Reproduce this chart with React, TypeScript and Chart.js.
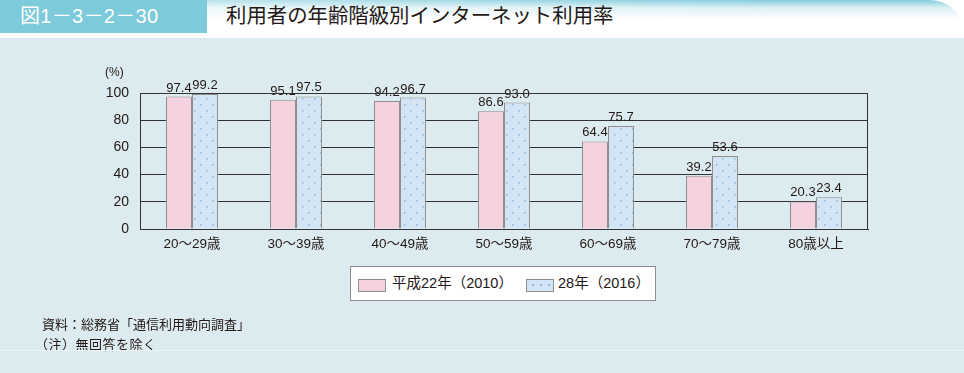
import React, { useEffect, useRef } from 'react';
import { Chart, registerables } from 'chart.js';
Chart.register(...registerables);

const categories = ['20～29歳', '30～39歳', '40～49歳', '50～59歳', '60～69歳', '70～79歳', '80歳以上'];
const series2010 = [97.4, 95.1, 94.2, 86.6, 64.4, 39.2, 20.3];
const series2016 = [99.2, 97.5, 96.7, 93.0, 75.7, 53.6, 23.4];
const seriesLabels = ['平成22年（2010）', '28年（2016）'];
const yMin = 0;
const yMax = 100;
const yStep = 20;

const FONT = "'Liberation Sans', 'Noto Sans CJK JP', sans-serif";
const TEXT = '#231815';
const PINK = '#f5d2df';
const BLUE = '#d3e4f5';
const DOT = '#8db5df';
const EDGE = '#8e8e8e';
const BG = '#dcebef';

function makePattern(): CanvasPattern | string {
  const c = document.createElement('canvas');
  c.width = 12;
  c.height = 12;
  const g = c.getContext('2d');
  if (!g) return BLUE;
  g.fillStyle = BLUE;
  g.fillRect(0, 0, 12, 12);
  g.fillStyle = DOT;
  g.fillRect(2, 2, 1.5, 1.5);
  g.fillRect(8, 8, 1.5, 1.5);
  const p = g.createPattern(c, 'repeat');
  return p || BLUE;
}

export default function App() {
  const ref = useRef<HTMLCanvasElement | null>(null);

  useEffect(() => {
    if (!ref.current) return;
    const labelPlugin = {
      id: 'valueLabels',
      afterDatasetsDraw(chart: any) {
        const ctx = chart.ctx;
        ctx.save();
        ctx.font = `13px ${FONT}`;
        ctx.fillStyle = TEXT;
        ctx.textAlign = 'center';
        ctx.textBaseline = 'bottom';
        chart.data.datasets.forEach((ds: any, i: number) => {
          const meta = chart.getDatasetMeta(i);
          meta.data.forEach((el: any, j: number) => {
            ctx.fillText(Number(ds.data[j]).toFixed(1), el.x, el.y - 2);
          });
        });
        const a = chart.chartArea;
        ctx.strokeStyle = '#333333';
        ctx.lineWidth = 1;
        ctx.strokeRect(Math.round(a.left) + 0.5, Math.round(a.top) + 0.5, Math.round(a.right - a.left) - 1, Math.round(a.bottom - a.top));
        ctx.restore();
      },
    };
    const chart = new Chart(ref.current, {
      type: 'bar',
      data: {
        labels: categories,
        datasets: [
          {
            label: seriesLabels[0],
            data: series2010,
            backgroundColor: PINK,
            borderColor: EDGE,
            borderWidth: { left: 1, right: 1, top: 1, bottom: 0 } as any,
            borderSkipped: 'bottom',
          },
          {
            label: seriesLabels[1],
            data: series2016,
            backgroundColor: makePattern() as any,
            borderColor: EDGE,
            borderWidth: { left: 1, right: 1, top: 1, bottom: 0 } as any,
            borderSkipped: 'bottom',
          },
        ],
      },
      options: {
        animation: false,
        responsive: false,
        maintainAspectRatio: false,
        devicePixelRatio: 1,
        layout: { padding: { top: 93, right: 96, left: 0, bottom: 0 } },
        datasets: { bar: { categoryPercentage: 0.5, barPercentage: 1 } },
        plugins: { legend: { display: false }, tooltip: { enabled: false } },
        scales: {
          x: {
            grid: { display: false, drawTicks: false },
            border: { color: '#333333', width: 1 },
            ticks: { color: TEXT, font: { family: FONT, size: 13.5 }, padding: 7, maxRotation: 0 },
            afterFit: (s: any) => { s.height = 144; },
          },
          y: {
            min: yMin,
            max: yMax,
            grid: { color: '#333333', lineWidth: 1, drawTicks: false },
            border: { color: '#333333', width: 1 },
            ticks: { stepSize: yStep, color: TEXT, font: { family: FONT, size: 14 }, padding: 11 },
            afterFit: (s: any) => { s.width = 140; },
          },
        },
      },
      plugins: [labelPlugin],
    });
    return () => chart.destroy();
  }, []);

  const swatch = (kind: number) => ({
    position: 'absolute' as const,
    top: 12,
    left: 7,
    width: 26,
    height: 11,
    border: `1px solid ${EDGE}`,
    backgroundColor: kind === 0 ? PINK : BLUE,
    backgroundImage: kind === 0 ? 'none' : `radial-gradient(${DOT} 0.8px, transparent 1.2px)`,
    backgroundSize: '8px 8px',
    backgroundPosition: '2px 1px',
  });

  return (
    <div style={{ position: 'fixed', left: 0, top: 0, width: 964, height: 373, background: BG, overflow: 'hidden', fontFamily: FONT, color: TEXT }}>
      <div style={{ position: 'absolute', left: 0, top: 0, width: 964, height: 38, background: '#ffffff' }} />
      <div style={{ position: 'absolute', left: 0, top: 0, width: 964, height: 34, borderTopRightRadius: 46, background: 'linear-gradient(to bottom, rgba(125,202,219,0.95) 0px, rgba(200,232,239,0.6) 8px, rgba(255,255,255,0) 20px)' }} />
      <div style={{ position: 'absolute', left: 0, top: 0, width: 964, height: 38, background: 'linear-gradient(to right, rgba(255,255,255,0.6), rgba(255,255,255,0) 80%)' }} />
      <div style={{ position: 'absolute', left: 0, top: 0, width: 207, height: 33, background: '#7dcadb' }} />
      <div style={{ position: 'absolute', left: 20, top: 0, height: 33, lineHeight: '33px', color: '#ffffff', fontSize: 20, letterSpacing: 0.3, whiteSpace: 'nowrap' }}>図1－3－2－30</div>
      <div style={{ position: 'absolute', left: 226, top: 0, height: 33, lineHeight: '33px', color: TEXT, fontSize: 20.4, whiteSpace: 'nowrap' }}>利用者の年齢階級別インターネット利用率</div>
      <canvas ref={ref} width={964} height={373} style={{ position: 'absolute', left: 0, top: 0, width: 964, height: 373 }} />
      <div style={{ position: 'absolute', left: 105, top: 65, fontSize: 12, whiteSpace: 'nowrap' }}>(%)</div>
      <div style={{ position: 'absolute', left: 350, top: 266, width: 304, height: 33, background: '#ffffff', border: '1px solid #8e8e8e' }}>
        <div style={swatch(0)} />
        <div style={{ position: 'absolute', left: 41, top: -1, lineHeight: '35px', fontSize: 14.5, whiteSpace: 'nowrap' }}>{seriesLabels[0]}</div>
        <div style={{ ...swatch(1), left: 175 }} />
        <div style={{ position: 'absolute', left: 207, top: -1, lineHeight: '35px', fontSize: 14.5, whiteSpace: 'nowrap' }}>{seriesLabels[1]}</div>
      </div>
      <div style={{ position: 'absolute', left: 42, top: 316, fontSize: 13, whiteSpace: 'nowrap', lineHeight: '18px' }}>資料：総務省「通信利用動向調査」</div>
      <div style={{ position: 'absolute', left: 35, top: 336, fontSize: 13, whiteSpace: 'nowrap', lineHeight: '18px', letterSpacing: 0.5 }}>（注）無回答を除く</div>
      <div style={{ position: 'absolute', left: 0, top: 350, width: 964, height: 1, background: '#eaf4f6' }} />
    </div>
  );
}
